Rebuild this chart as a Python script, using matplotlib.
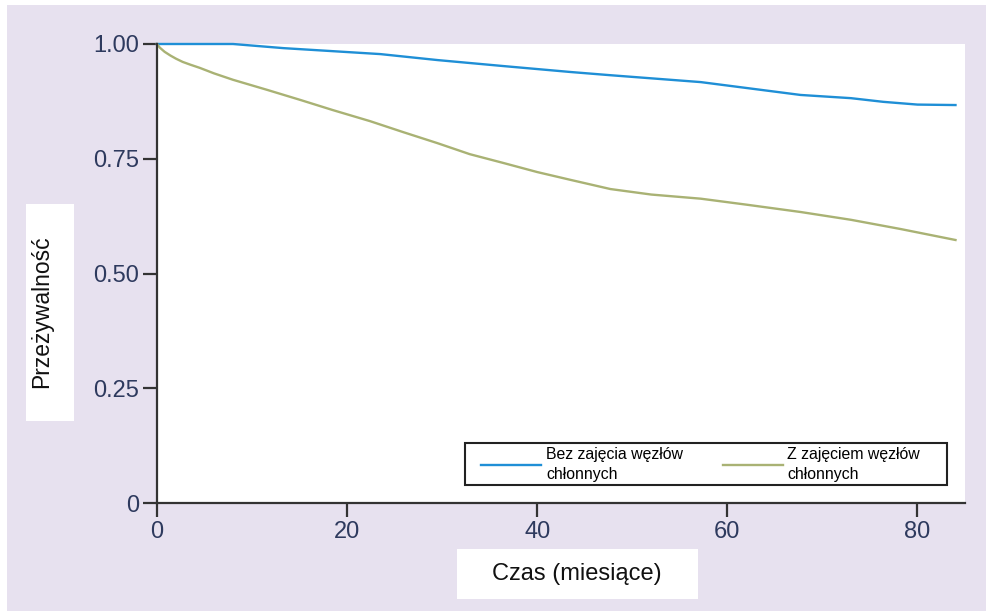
import matplotlib
matplotlib.use("Agg")
import matplotlib.pyplot as plt
from matplotlib.patches import Rectangle

# Data
t_bez = [0, 4, 8, 13.3, 23.5, 29.5, 36.4, 43.5, 47.7, 57.2, 67.7, 73, 76.4, 78.2, 80, 84]
s_bez = [1.0, 1.0, 1.0, 0.991, 0.978, 0.965, 0.952, 0.939, 0.932, 0.917, 0.889, 0.882, 0.874, 0.871, 0.868, 0.867]

t_z = [0, 0.3, 0.8, 1.4, 2.0, 2.7, 3.5, 4.5, 6, 8, 11.6, 15.1, 18.5, 22.4, 25.9, 29.5, 32.9, 36.4, 40, 43.5, 47.7, 52, 57.2, 62, 67.7, 73, 78.2, 84]
s_z = [1.0, 0.992, 0.983, 0.975, 0.968, 0.961, 0.955, 0.948, 0.936, 0.922, 0.900, 0.878, 0.856, 0.832, 0.808, 0.784, 0.760, 0.741, 0.721, 0.704, 0.684, 0.672, 0.663, 0.650, 0.634, 0.617, 0.597, 0.573]

x_ticks = [0, 20, 40, 60, 80]
y_ticks = [0, 0.25, 0.5, 0.75, 1.0]
y_ticklabels = ["0", "0.25", "0.50", "0.75", "1.00"]
label_bez = "Bez zajęcia węzłów\nchłonnych"
label_z = "Z zajęciem węzłów\nchłonnych"
xlabel = "Czas (miesiące)"
ylabel = "Przeżywalność"

plt.rcParams['font.family'] = ['Liberation Sans', 'DejaVu Sans']

W, H = 987, 611
fig = plt.figure(figsize=(W / 100, H / 100), dpi=100)
fig.patch.set_facecolor("white")

lav = "#e7e1ef"
fig.add_artist(Rectangle((7 / W, 0), 1 - 7 / W, 1 - 5 / H, transform=fig.transFigure,
                         facecolor=lav, edgecolor="none", zorder=0))

ax = fig.add_axes([157 / W, 1 - 503 / H, (965 - 157) / W, (503 - 44) / H])
ax.set_facecolor("white")
ax.set_zorder(1)

blue = "#1f8fd6"
green = "#a9b274"
l1, = ax.plot(t_bez, s_bez, color=blue, lw=1.7, label=label_bez, clip_on=False)
l2, = ax.plot(t_z, s_z, color=green, lw=1.7, label=label_z, clip_on=False)

ax.set_xlim(0, 85)
ax.set_ylim(0, 1.0)
ax.set_xticks(x_ticks)
ax.set_yticks(y_ticks)
ax.set_yticklabels(y_ticklabels)
for s in ["top", "right"]:
    ax.spines[s].set_visible(False)
for s in ["left", "bottom"]:
    ax.spines[s].set_color("#333333")
    ax.spines[s].set_linewidth(1.6)
ax.tick_params(direction="out", length=10, width=1.6, color="#333333",
               labelsize=17, labelcolor="#2e3a5e", pad=3)

# legend frame drawn separately
fig.add_artist(Rectangle((465 / W, 1 - 485 / H), (947 - 465) / W, (485 - 443) / H,
                         transform=fig.transFigure, facecolor="white", edgecolor="#222222",
                         linewidth=1.5, zorder=2))
leg = fig.legend(handles=[l1, l2], labels=[label_bez, label_z],
                 loc="upper left", bbox_to_anchor=(481 / W, 1 - 447 / H),
                 bbox_transform=fig.transFigure, ncol=2, fontsize=11.4,
                 frameon=False, handlelength=3.8, handletextpad=0.3, columnspacing=2.5,
                 borderpad=0, borderaxespad=0, labelspacing=0.2)
for t in leg.get_texts():
    t.set_linespacing(1.45)
leg.set_zorder(3)

# axis label boxes
fig.add_artist(Rectangle((457 / W, 1 - 599 / H), (698 - 457) / W, 50 / H,
                         transform=fig.transFigure, facecolor="white", edgecolor="none", zorder=0.5))
fig.text(577 / W, 1 - 574 / H, xlabel, ha="center", va="center", fontsize=17, color="#111111")
fig.add_artist(Rectangle((26 / W, 1 - 421 / H), 48 / W, (421 - 204) / H,
                         transform=fig.transFigure, facecolor="white", edgecolor="none", zorder=0.5))
fig.text(42 / W, 1 - 312 / H, ylabel, ha="center", va="center", rotation=90,
         fontsize=16.5, color="#111111")

fig.savefig("out.png", dpi=100)
